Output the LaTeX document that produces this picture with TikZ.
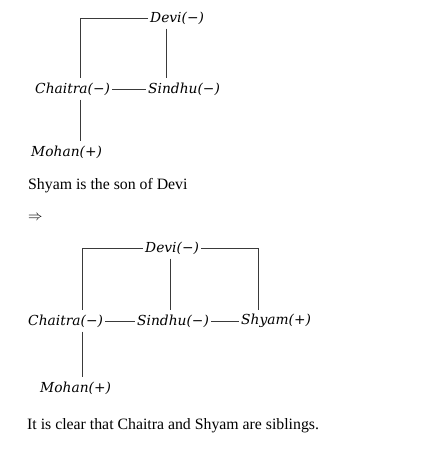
\documentclass[tikz,border=0pt]{standalone}
\usepackage{fontspec}
\setmainfont{Liberation Serif}
\newfontfamily\kinfont{DejaVu Serif}
\usepackage{xcolor}
\usetikzlibrary{positioning}
\definecolor{wire}{HTML}{3A3A3A}
\tikzset{person/.style={anchor=west,inner xsep=2pt,inner ysep=4pt,font=\kinfont\itshape\fontsize{13.8}{15}\selectfont},note/.style={anchor=west,inner sep=0pt,font=\fontsize{15.8}{18}\selectfont},link/.style={draw=wire,line width=.9pt}}

\begin{document}
\begin{tikzpicture}[x=1pt,y=-1pt]
\useasboundingbox (0,0) rectangle (434,462);
\coordinate (ca) at (80,0);\coordinate (cb) at (166,0);
\coordinate (cc) at (82,0);\coordinate (cd) at (170,0);\coordinate (ce) at (258,0);
\node[person] (devi) at (148,18) {Devi(−)};
\node[person] (chaitra) at (33,89) {Chaitra(−)};
\node[person] (sindhu) at (146,89) {Sindhu(−)};
\node[person] (mohan) at (29,152) {Mohan(+)};
\draw[link] (devi.west) -| (chaitra.north -| ca);
\draw[link] (devi.south -| cb) -- (sindhu.north -| cb);
\draw[link] (chaitra.east) -- (sindhu.west);
\draw[link] (chaitra.south -| ca) -- (mohan.north -| ca);
\node[note] (fact) at (28,186) {Shyam is the son of Devi};
\node[note] (so) at (28,218) {$\Rightarrow$};
\node[person] (devib) at (143,248) {Devi(−)};
\node[person] (chaitrab) at (26,321) {Chaitra(−)};
\node[person] (sindhub) at (135,321) {Sindhu(−)};
\node[person] (shyamb) at (239,321) {Shyam(+)};
\node[person] (mohanb) at (38,388) {Mohan(+)};
\draw[link] (devib.west) -| (chaitrab.north -| cc);
\draw[link] (devib.east) -| (shyamb.north -| ce);
\draw[link] (devib.south -| cd) -- (sindhub.north -| cd);
\draw[link] (chaitrab.east) -- (sindhub.west);
\draw[link] (sindhub.east) -- (shyamb.west);
\draw[link] (chaitrab.south -| cc) -- (mohanb.north -| cc);
\node[note] (end) at (27,426) {It is clear that Chaitra and Shyam are siblings.};
\end{tikzpicture}
\end{document}
